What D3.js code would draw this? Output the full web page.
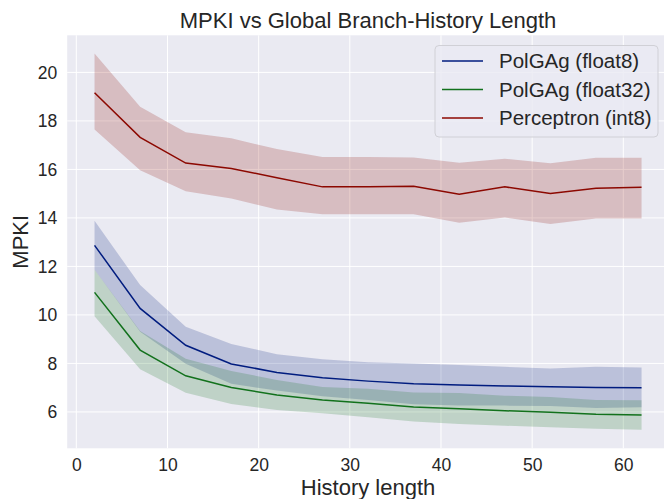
<!DOCTYPE html>
<html>
<head>
<meta charset="utf-8">
<script src="https://cdn.jsdelivr.net/npm/d3@7"></script>
<style>
  body { margin: 0; background: #fff; }
  svg { display: block; font-family: "Liberation Sans", Arial, sans-serif; }
</style>
</head>
<body>
<svg id="chart" width="664" height="499"></svg>
<script>
// history lengths on the x axis
let hist_len = [2, 7, 12, 17, 22, 27, 32, 37, 42, 47, 52, 57, 62];

// PolGAg (float8)
let f8_mean = [12.87, 10.27, 8.75, 7.98, 7.63, 7.41, 7.27, 7.16, 7.11, 7.07, 7.04, 7.01, 7.00];
let f8_hi   = [13.88, 11.23, 9.51, 8.80, 8.38, 8.17, 8.05, 8.00, 7.93, 7.86, 7.79, 7.86, 7.83];
let f8_lo   = [11.86, 9.31, 7.99, 7.16, 6.88, 6.65, 6.49, 6.32, 6.27, 6.26, 6.24, 6.16, 6.19];

// PolGAg (float32)
let f32_mean = [10.93, 8.55, 7.49, 7.01, 6.70, 6.49, 6.36, 6.20, 6.13, 6.05, 5.99, 5.90, 5.87];
let f32_hi   = [11.86, 9.34, 8.19, 7.69, 7.32, 7.03, 6.96, 6.80, 6.78, 6.67, 6.62, 6.49, 6.48];
let f32_lo   = [9.95, 7.76, 6.79, 6.33, 6.08, 5.95, 5.78, 5.60, 5.50, 5.43, 5.37, 5.31, 5.26];

// Perceptron (int8)
let pc_mean = [19.16, 17.32, 16.26, 16.04, 15.66, 15.28, 15.29, 15.31, 14.98, 15.28, 15.01, 15.22, 15.26];
let pc_hi   = [20.78, 18.58, 17.53, 17.28, 16.84, 16.51, 16.51, 16.49, 16.27, 16.44, 16.25, 16.48, 16.48];
let pc_lo   = [17.65, 15.97, 15.10, 14.80, 14.35, 14.15, 14.15, 14.15, 13.80, 14.02, 13.75, 13.98, 13.98];

let series_names = ["PolGAg (float8)", "PolGAg (float32)", "Perceptron (int8)"];
let series_colors = ["#001c7f", "#12711c", "#8c0800"];

let x_ticks = [0, 10, 20, 30, 40, 50, 60];
let y_ticks = [6, 8, 10, 12, 14, 16, 18, 20];

let series = [
  {mean: f8_mean, hi: f8_hi, lo: f8_lo},
  {mean: f32_mean, hi: f32_hi, lo: f32_lo},
  {mean: pc_mean, hi: pc_hi, lo: pc_lo}
];

let svg = d3.select("#chart");
let layout = {left: 67.2, right: 668.9, top: 35.3, bottom: 448.3};
let txt = "#262626";

let x = d3.scaleLinear().domain([-1, 65]).range([layout.left, layout.right]);
let y = d3.scaleLinear().domain([4.5, 21.53]).range([layout.bottom, layout.top]);

// axes background
svg.append("rect")
  .attr("x", layout.left).attr("y", layout.top)
  .attr("width", layout.right - layout.left).attr("height", layout.bottom - layout.top)
  .style("fill", "#eaeaf2");

// grid
let grid = svg.append("g");
grid.selectAll("line.gx").data(x_ticks).enter().append("line")
  .attr("x1", d => x(d)).attr("x2", d => x(d))
  .attr("y1", layout.top).attr("y2", layout.bottom)
  .style("stroke", "#fff").style("stroke-width", 1);
grid.selectAll("line.gy").data(y_ticks).enter().append("line")
  .attr("y1", d => y(d)).attr("y2", d => y(d))
  .attr("x1", layout.left).attr("x2", layout.right)
  .style("stroke", "#fff").style("stroke-width", 1);

// tick labels via d3 axes
let axis_x = svg.append("g").attr("transform", "translate(0," + layout.bottom + ")")
  .call(d3.axisBottom(x).tickValues(x_ticks).tickSize(0).tickPadding(10).tickFormat(d3.format("d")));
let axis_y = svg.append("g").attr("transform", "translate(" + layout.left + ",0)")
  .call(d3.axisLeft(y).tickValues(y_ticks).tickSize(0).tickPadding(10).tickFormat(d3.format("d")));
[axis_x, axis_y].forEach(function(a) {
  a.select(".domain").remove();
  a.selectAll("text").style("font-size", "17.5px").style("fill", txt)
    .style("font-family", "'Liberation Sans', Arial, sans-serif");
});

// bands then lines
let area = d3.area().x((d, i) => x(hist_len[i])).y0(d => y(d[0])).y1(d => y(d[1]));
let line = d3.line().x((d, i) => x(hist_len[i])).y(d => y(d));

series.forEach(function(s, k) {
  let band = s.lo.map((v, i) => [v, s.hi[i]]);
  svg.append("path").attr("d", area(band))
    .style("fill", series_colors[k]).style("fill-opacity", 0.2).style("stroke", "none");
});
series.forEach(function(s, k) {
  svg.append("path").attr("d", line(s.mean))
    .style("fill", "none").style("stroke", series_colors[k]).style("stroke-width", 1.5);
});

// title + axis names
svg.append("text").attr("x", (layout.left + layout.right) / 2).attr("y", 28)
  .attr("text-anchor", "middle").style("font-size", "22px").style("fill", txt)
  .text("MPKI vs Global Branch-History Length");
svg.append("text").attr("x", (layout.left + layout.right) / 2).attr("y", 495)
  .attr("text-anchor", "middle").style("font-size", "22px").style("fill", txt)
  .text("History length");
svg.append("text").attr("transform", "translate(28," + ((layout.top + layout.bottom) / 2) + ") rotate(-90)")
  .attr("text-anchor", "middle").style("font-size", "22px").style("fill", txt)
  .text("MPKI");

// legend
let leg = svg.append("g").attr("transform", "translate(435,45.5)");
leg.append("rect").attr("width", 223).attr("height", 91.5).attr("rx", 4)
  .style("fill", "#eaeaf2").style("fill-opacity", 0.8).style("stroke", "#d0d0d6").style("stroke-width", 1);
series_names.forEach(function(name, k) {
  let yy = 15.5 + k * 28.5;
  leg.append("line").attr("x1", 7).attr("x2", 48).attr("y1", yy).attr("y2", yy)
    .style("stroke", series_colors[k]).style("stroke-width", 1.5);
  leg.append("text").attr("x", 64).attr("y", yy).attr("dy", "0.35em")
    .style("font-size", "20.5px").style("fill", txt).text(name);
});
</script>
</body>
</html>
